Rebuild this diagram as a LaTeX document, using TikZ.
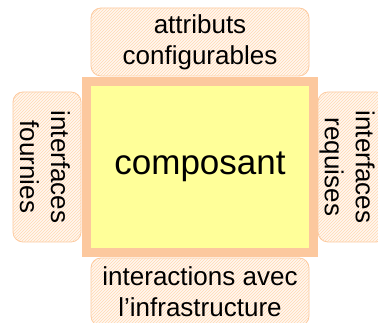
\documentclass[tikz,border=0pt]{standalone}
\usepackage{fontspec}
\setmainfont{Liberation Sans}
\usepackage{tikz}
\usetikzlibrary{patterns}
\usetikzlibrary{positioning}
\definecolor{peach}{RGB}{252,200,158}
\definecolor{lightyellow}{RGB}{255,255,153}
\tikzset{every picture/.style={x=1pt,y=1pt},
facet/.style={rectangle, rounded corners=10pt, draw=peach, line width=0.8pt, fill=orange!6, pattern color=orange!30, align=center, inner sep=0pt, font=\fontsize{26}{31}\selectfont},
hfacet/.style={facet, minimum width=218pt, minimum height=68pt},
vfacet/.style={facet, rotate=-90, minimum width=150pt, minimum height=68pt}}

\begin{document}
\begin{tikzpicture}
\useasboundingbox (0,0) rectangle (378,323);
\foreach \x / \y / \t in {200/281/{attributs\\configurables},200/31/{interactions avec\\l'infrastructure}} {
\node[hfacet] at (\x,\y) {};
\node[hfacet, draw=none, fill=none, pattern=north east lines] at (\x,\y) {\t};
}
\foreach \x / \s / \t in {47/45/{interfaces\\fournies},352/347/{interfaces\\requises}} {
\node[vfacet] at (\x,156) {};
\node[vfacet, draw=none, fill=none, pattern=north east lines] at (\x,156) {};
\node[vfacet, draw=none, fill=none] at (\s,156) {\t};
}
\node (comp) at (200,156) [rectangle, draw=peach, line width=9pt, fill=lightyellow, minimum width=227pt, minimum height=171pt, font=\fontsize{35}{40}\selectfont] {composant};
\end{tikzpicture}
\end{document}
